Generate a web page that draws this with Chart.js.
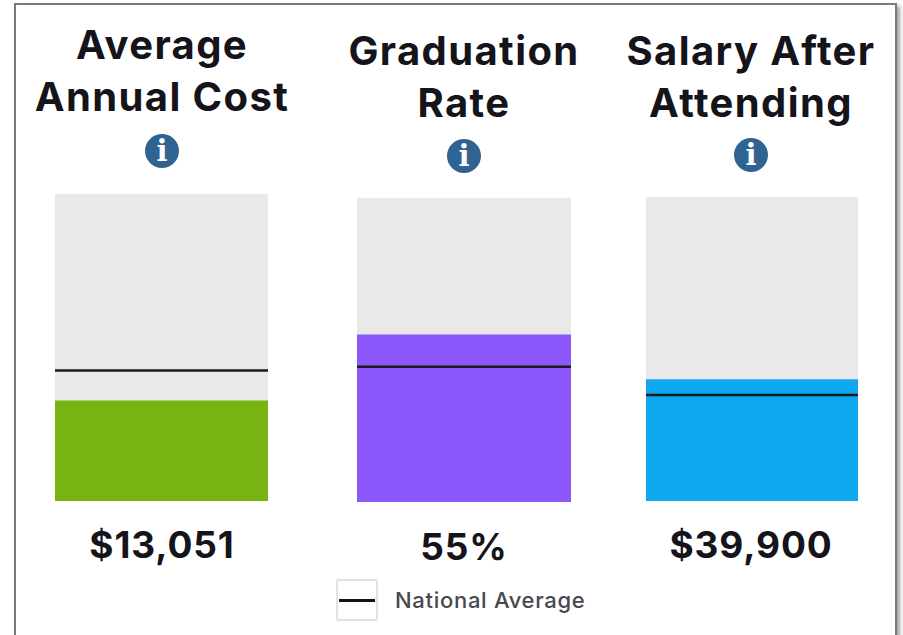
<!DOCTYPE html>
<html>
<head>
<meta charset="utf-8">
<title>College scorecard</title>
<script src="https://cdn.jsdelivr.net/npm/chart.js@4"></script>
<style>
  html, body { margin: 0; height: 100%; background: #fff; overflow: hidden; }
  body { position: relative; width: 903px; height: 635px; font-family: Inter, "Open Sans", sans-serif; color: #14141a; }
  .frame { position: absolute; left: 14px; top: 3px; width: 879px; height: 660px; border: 2px solid #7a7a7a; box-shadow: 3px 3px 4px #a0a0a0; }
  .abs { position: absolute; }
  .title, .value { transform: translateX(-50%); white-space: nowrap; text-align: center; font-weight: 700; }
  .title { font-size: 40px; line-height: 52px; letter-spacing: 1.4px; }
  .value { font-size: 37px; line-height: 44px; letter-spacing: 0.9px; }
  .info { width: 34px; height: 34px; border-radius: 50%; background: #2f6391; color: #fff; transform: translate(-50%, -50%);
          font: 700 29px/34px "DejaVu Serif", serif; text-align: center; }
  canvas { position: absolute; }
  .legend-box { left: 336px; top: 579px; width: 38px; height: 38px; border: 2px solid #e2e2e2; border-radius: 2px; }
  .legend-line { left: 339px; top: 599px; width: 36px; height: 3px; background: #111; }
  .legend-text { left: 395px; top: 587px; font-size: 22px; line-height: 26px; font-weight: 500; color: #48484e; white-space: nowrap; letter-spacing: 0.7px; }
</style>
</head>
<body>
<div class="frame"></div>

<div class="abs title" style="left:162px;top:19px">Average<br>Annual Cost</div>
<div class="abs title" style="left:464px;top:25px">Graduation<br>Rate</div>
<div class="abs title" style="left:751px;top:25px">Salary After<br>Attending</div>

<div class="abs info" style="left:162px;top:151px">i</div>
<div class="abs info" style="left:464px;top:156px">i</div>
<div class="abs info" style="left:751px;top:155px">i</div>

<canvas id="costChart" width="213" height="307" style="left:55px;top:194px"></canvas>
<canvas id="gradChart" width="214" height="304" style="left:357px;top:198px"></canvas>
<canvas id="salaryChart" width="212" height="304" style="left:646px;top:197px"></canvas>

<div class="abs value" style="left:162px;top:523px">$13,051</div>
<div class="abs value" style="left:464px;top:525px">55%</div>
<div class="abs value" style="left:751px;top:523px">$39,900</div>

<div class="abs legend-box"></div>
<div class="abs legend-line"></div>
<div class="abs legend-text">National Average</div>

<script>
const chartIds = ['costChart', 'gradChart', 'salaryChart'];
const metrics = ['Average Annual Cost', 'Graduation Rate', 'Salary After Attending'];
const schoolValues = [13051, 55, 39900];
const nationalValues = [17000, 44.5, 34900];
const scaleMax = [40000, 100, 100000];
const barColors = ['#78b312', '#8c57fb', '#0ea8ee'];

function makeChart(i){
  const ctx = document.getElementById(chartIds[i]).getContext('2d');
  new Chart(ctx, {
    type: 'bar',
    data: {
      labels: [metrics[i]],
      datasets: [
        // school value sits over the full-height grey track
        { label: 'School', data: [schoolValues[i]], backgroundColor: barColors[i], order: 2 },
        { label: 'Range', data: [scaleMax[i]], backgroundColor: '#e9e9e9', order: 3 },
        {
          type: 'line',
          label: 'National Average',
          xAxisID: 'xLine',
          data: [{ x: 0, y: nationalValues[i] }, { x: 1, y: nationalValues[i] }],
          borderColor: '#1a1a1e',
          borderWidth: 2.5,
          pointRadius: 0,
          order: 1
        }
      ]
    },
    options: {
      responsive: false,
      animation: false,
      layout: { padding: 0 },
      datasets: { bar: { grouped: false, barPercentage: 1, categoryPercentage: 1 } },
      plugins: { legend: { display: false }, tooltip: { enabled: false } },
      scales: {
        x: { display: false },
        xLine: { type: 'linear', display: false, min: 0, max: 1, offset: false },
        y: { display: false, min: 0, max: scaleMax[i] }
      }
    }
  });
}

chartIds.forEach((_, i) => makeChart(i));
</script>
</body>
</html>
